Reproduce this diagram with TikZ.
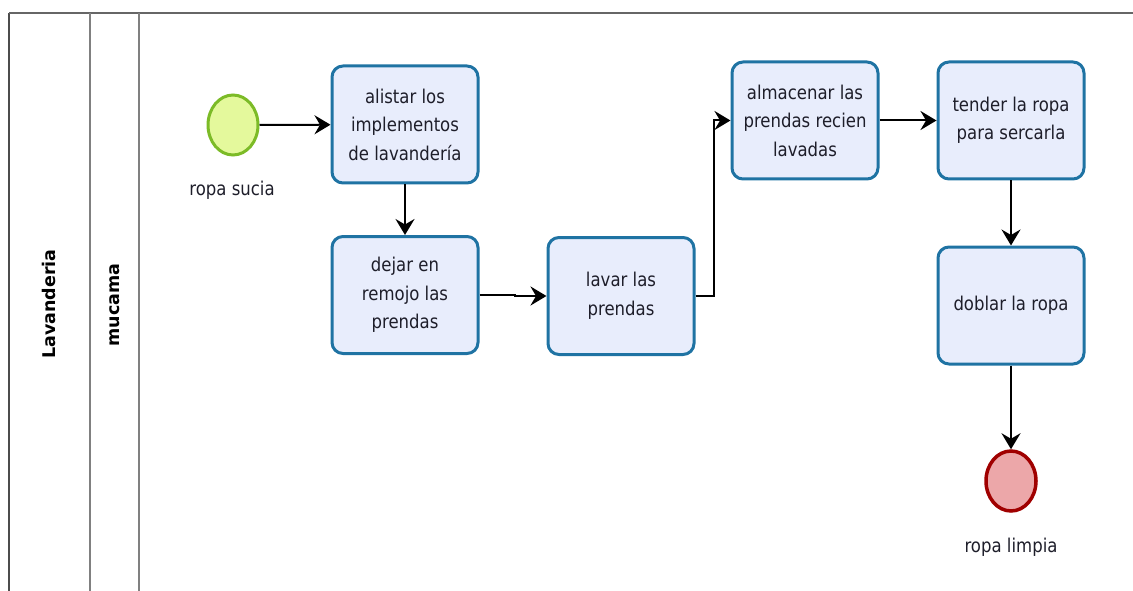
\documentclass[tikz,border=0pt]{standalone}
\usepackage{fontspec}
\setmainfont{DejaVu Sans}[FakeStretch=0.87]
\newfontfamily\lanefont{DejaVu Sans}
\usetikzlibrary{arrows.meta,shapes.geometric}
\definecolor{taskfill}{HTML}{E8EDFC}
\definecolor{taskline}{HTML}{1F73A3}
\definecolor{startfill}{HTML}{E4F99C}
\definecolor{startline}{HTML}{7CBB27}
\definecolor{endfill}{HTML}{ECA7A9}
\definecolor{endline}{HTML}{A00000}
\definecolor{txt}{HTML}{1E1E2A}
\tikzset{
  task/.style={draw=taskline, fill=taskfill, line width=3pt, rounded corners=11pt,
    minimum width=146pt, minimum height=117pt, align=center, text=txt,
    font=\fontsize{19}{28.5}\selectfont, inner sep=0pt},
  evstart/.style={ellipse, draw=startline, fill=startfill, line width=3pt,
    minimum width=50pt, minimum height=60pt, inner sep=0pt},
  evend/.style={ellipse, draw=endline, fill=endfill, line width=3.5pt,
    minimum width=50pt, minimum height=60pt, inner sep=0pt},
  evlabel/.style={text=txt, font=\fontsize{19}{22}\selectfont, inner sep=0pt},
  lanelabel/.style={rotate=90, text=black, font=\lanefont\bfseries\fontsize{17.5}{20}\selectfont, inner sep=0pt},
  flow/.style={draw=black, line width=2pt, -{Stealth[length=16pt, width=19pt, inset=5.5pt]}},
  pool/.style={line width=2.5pt}
}
\begin{document}
\begin{tikzpicture}[x=1pt, y=-1pt]
  \useasboundingbox (0,0) rectangle (1133,591);
  % pool and lane frame
  \draw[pool, draw=black!70] (9,591) -- (9,13);
  \draw[pool, draw=black!60] (9,13) -- (1133,13);
  \draw[pool, draw=black!50] (90,13) -- (90,591);
  \draw[pool, draw=black!50] (139,13) -- (139,591);
  \node[lanelabel] (pool) at (49,304) {Lavanderia};
  \node[lanelabel] (lane) at (115,305) {mucama};

  % events
  \node[evstart] (start) at (233,125) {};
  \node[evlabel] (startlbl) at (232,190) {ropa sucia};
  \node[evend] (finish) at (1011,481) {};
  \node[evlabel] (finishlbl) at (1011,547) {ropa limpia};

  % tasks
  \node[task] (t1) at (405,124.5) {alistar los\\implementos\\de lavandería};
  \node[task] (t2) at (405,295) {dejar en\\remojo las\\prendas};
  \node[task] (t3) at (621,296) {lavar las\\prendas};
  \node[task] (t4) at (805,120.5) {almacenar las\\prendas recien\\lavadas};
  \node[task] (t5) at (1011,120.5) {tender la ropa\\para sercarla};
  \node[task] (t6) at (1011,305.5) {doblar la ropa};

  % sequence flows
  \draw[flow] (start) -- (t1);
  \draw[flow] (t1) -- (t2);
  \draw[flow] (t2.east) -- ([xshift=35pt]t2.east) |- (t3.west);
  \draw[flow] (t3.east) -- ([xshift=18pt]t3.east) |- (t4.west);
  \draw[flow] (t4) -- (t5);
  \draw[flow] (t5) -- (t6);
  \draw[flow] (t6) -- (finish);
\end{tikzpicture}
\end{document}
